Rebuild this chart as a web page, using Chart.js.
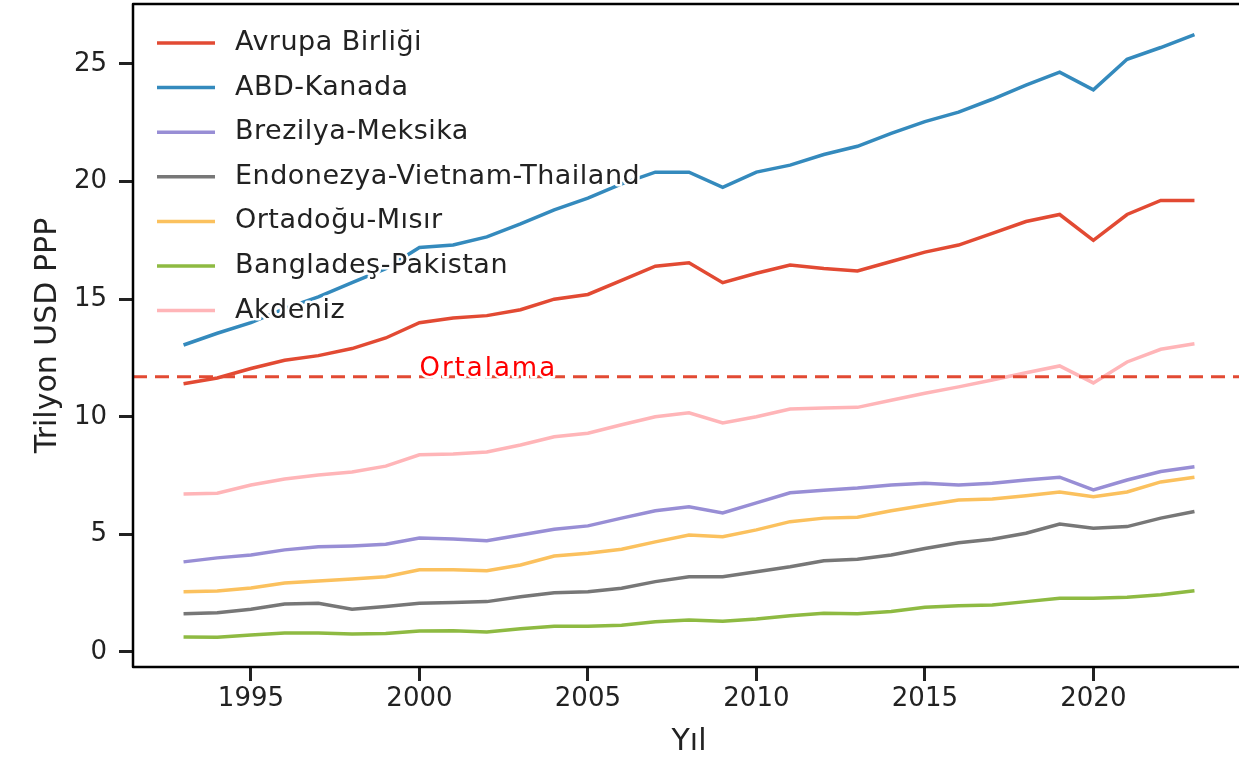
<!DOCTYPE html>
<html>
<head>
<meta charset="utf-8">
<script src="https://cdn.jsdelivr.net/npm/chart.js@4.4.1/dist/chart.umd.min.js"></script>
<style>
    html, body { margin: 0; padding: 0; background: #fff; overflow: hidden; }
    #wrap { width: 1250px; height: 765px; }
</style>
</head>
<body>
<div id="wrap"><canvas id="myLineChart" width="1250" height="765"></canvas></div>
<script>
// Yıllar ve seriler (Trilyon USD PPP)
const years = [1993, 1994, 1995, 1996, 1997, 1998, 1999, 2000, 2001, 2002, 2003, 2004, 2005, 2006, 2007,
    2008, 2009, 2010, 2011, 2012, 2013, 2014, 2015, 2016, 2017, 2018, 2019, 2020, 2021, 2022, 2023];

const avrupaBirligi = [11.4, 11.65, 12.05, 12.4, 12.6, 12.9, 13.35, 14.0, 14.2, 14.3, 14.55, 15.0, 15.2, 15.8, 16.4,
    16.55, 15.7, 16.1, 16.45, 16.3, 16.2, 16.6, 17.0, 17.3, 17.8, 18.3, 18.6, 17.5, 18.6, 19.2, 19.2];
const abdKanada = [13.05, 13.55, 14.0, 14.6, 15.1, 15.7, 16.3, 17.2, 17.3, 17.65, 18.2, 18.8, 19.3, 19.9, 20.4,
    20.4, 19.75, 20.4, 20.7, 21.15, 21.5, 22.05, 22.55, 22.95, 23.5, 24.1, 24.65, 23.9, 25.2, 25.7, 26.25];
const brezilyaMeksika = [3.83, 4.0, 4.12, 4.34, 4.47, 4.51, 4.58, 4.84, 4.8, 4.73, 4.97, 5.22, 5.36, 5.69, 6.0,
    6.17, 5.91, 6.34, 6.77, 6.88, 6.97, 7.1, 7.17, 7.1, 7.17, 7.31, 7.43, 6.89, 7.31, 7.67, 7.87];
const endonezyaVietnamThailand = [1.62, 1.67, 1.82, 2.04, 2.07, 1.82, 1.93, 2.07, 2.1, 2.14, 2.35, 2.52, 2.56, 2.71, 2.99,
    3.2, 3.2, 3.41, 3.62, 3.88, 3.94, 4.12, 4.4, 4.64, 4.79, 5.05, 5.44, 5.26, 5.33, 5.69, 5.97];
const ortadoguMisir = [2.56, 2.59, 2.72, 2.93, 3.02, 3.1, 3.2, 3.49, 3.49, 3.45, 3.7, 4.08, 4.2, 4.37, 4.68,
    4.97, 4.9, 5.19, 5.54, 5.69, 5.73, 6.0, 6.24, 6.46, 6.5, 6.64, 6.8, 6.6, 6.8, 7.23, 7.43];
const bangladesPakistan = [0.64, 0.62, 0.72, 0.81, 0.81, 0.76, 0.78, 0.89, 0.9, 0.85, 0.99, 1.09, 1.09, 1.14, 1.28,
    1.36, 1.31, 1.4, 1.54, 1.65, 1.62, 1.72, 1.9, 1.96, 2.0, 2.14, 2.28, 2.28, 2.33, 2.43, 2.6];
const akdeniz = [6.72, 6.75, 7.1, 7.35, 7.52, 7.65, 7.9, 8.38, 8.42, 8.5, 8.8, 9.15, 9.3, 9.66, 10.0,
    10.17, 9.74, 10.0, 10.33, 10.37, 10.4, 10.7, 11.0, 11.27, 11.56, 11.87, 12.16, 11.44, 12.33, 12.87, 13.1];

const seriesLabels = ['Avrupa Birliği', 'ABD-Kanada', 'Brezilya-Meksika', 'Endonezya-Vietnam-Thailand',
    'Ortadoğu-Mısır', 'Bangladeş-Pakistan', 'Akdeniz'];
const seriesValues = [avrupaBirligi, abdKanada, brezilyaMeksika, endonezyaVietnamThailand,
    ortadoguMisir, bangladesPakistan, akdeniz];
const seriesColors = ['#E24A33', '#348ABD', '#988ED5', '#777777', '#FBC15E', '#8EBA42', '#FFB5B8'];

// Ortalama çizgisi
const ortalama = 11.7;
const ortalamaLabel = 'Ortalama';
const ortalamaLabelYear = 2000;

const xTickValues = [1995, 2000, 2005, 2010, 2015, 2020];
const yTickValues = [0, 5, 10, 15, 20, 25];

const fontFamily = '"DejaVu Sans", sans-serif';
const textColor = '#222222';

// Extra drawing: mean line, frame, legend inside the plot
const xkcdExtras = {
    id: 'xkcdExtras',
    afterDatasetsDraw(chart) {
        const { ctx, chartArea: a, scales: { x, y } } = chart;
        ctx.save();

        // Ortalama line
        const my = y.getPixelForValue(ortalama);
        ctx.strokeStyle = '#E24A33';
        ctx.lineWidth = 3;
        ctx.setLineDash([14, 8]);
        ctx.beginPath();
        ctx.moveTo(a.left, my);
        ctx.lineTo(a.right, my);
        ctx.stroke();
        ctx.setLineDash([]);

        ctx.font = '26px ' + fontFamily;
        ctx.letterSpacing = '2px';
        ctx.textAlign = 'left';
        ctx.textBaseline = 'alphabetic';
        ctx.lineJoin = 'round';
        const tx = x.getPixelForValue(ortalamaLabelYear);
        ctx.strokeStyle = '#ffffff';
        ctx.lineWidth = 5;
        ctx.strokeText(ortalamaLabel, tx, my - 1);
        ctx.fillStyle = '#ff0000';
        ctx.fillText(ortalamaLabel, tx, my - 1);

        // Frame
        ctx.strokeStyle = '#000000';
        ctx.lineWidth = 2.5;
        ctx.strokeRect(a.left, a.top, a.right - a.left, a.bottom - a.top);

        // Legend
        ctx.font = '27px ' + fontFamily;
        ctx.letterSpacing = '0.5px';
        ctx.textBaseline = 'middle';
        chart.data.datasets.forEach((ds, i) => {
            const ly = a.top + 39 + i * 44.6;
            ctx.strokeStyle = ds.borderColor;
            ctx.lineWidth = 3.5;
            ctx.beginPath();
            ctx.moveTo(a.left + 24, ly);
            ctx.lineTo(a.left + 82, ly);
            ctx.stroke();
            ctx.strokeStyle = '#ffffff';
            ctx.lineWidth = 5;
            ctx.strokeText(ds.label, a.left + 102, ly);
            ctx.fillStyle = textColor;
            ctx.fillText(ds.label, a.left + 102, ly);
        });

        ctx.restore();
    }
};

const ctxLine = document.getElementById('myLineChart').getContext('2d');
const myLineChart = new Chart(ctxLine, {
    type: 'line',
    data: {
        datasets: seriesLabels.map((label, i) => ({
            label: label,
            data: years.map((yr, j) => ({ x: yr, y: seriesValues[i][j] })),
            borderColor: seriesColors[i],
            backgroundColor: seriesColors[i],
            borderWidth: 3.5,
            pointRadius: 0,
            tension: 0,
            fill: false,
            order: seriesLabels.length - i
        }))
    },
    options: {
        responsive: false,
        animation: false,
        devicePixelRatio: 1,
        layout: { padding: { top: 4, right: 5, left: 0, bottom: 0 } },
        plugins: {
            legend: { display: false },
            tooltip: { enabled: false }
        },
        scales: {
            x: {
                type: 'linear',
                min: 1991.5,
                max: 2024.5,
                afterFit: (s) => { s.height = 98; s.paddingLeft = 0; s.paddingRight = 0; },
                afterBuildTicks: (s) => { s.ticks = xTickValues.map(v => ({ value: v })); },
                border: { display: false },
                grid: { drawOnChartArea: false, tickLength: 14, tickWidth: 3, tickColor: textColor },
                ticks: {
                    callback: (v) => String(v),
                    font: { size: 26, family: fontFamily },
                    color: textColor,
                    padding: 3,
                    maxRotation: 0
                },
                title: {
                    display: true,
                    text: 'Yıl',
                    font: { size: 30, family: fontFamily },
                    color: textColor,
                    padding: { top: 0, bottom: 5 }
                }
            },
            y: {
                min: -0.64,
                max: 27.55,
                afterFit: (s) => { s.width = 133; s.paddingTop = 0; s.paddingBottom = 0; },
                afterBuildTicks: (s) => { s.ticks = yTickValues.map(v => ({ value: v })); },
                border: { display: false },
                grid: { drawOnChartArea: false, tickLength: 14, tickWidth: 3, tickColor: textColor },
                ticks: {
                    callback: (v) => String(v),
                    font: { size: 26, family: fontFamily },
                    color: textColor,
                    padding: 12
                },
                title: {
                    display: true,
                    text: 'Trilyon USD PPP',
                    font: { size: 30, family: fontFamily },
                    color: textColor,
                    padding: { top: 30, bottom: 0 }
                }
            }
        }
    },
    plugins: [xkcdExtras]
});
</script>
</body>
</html>
